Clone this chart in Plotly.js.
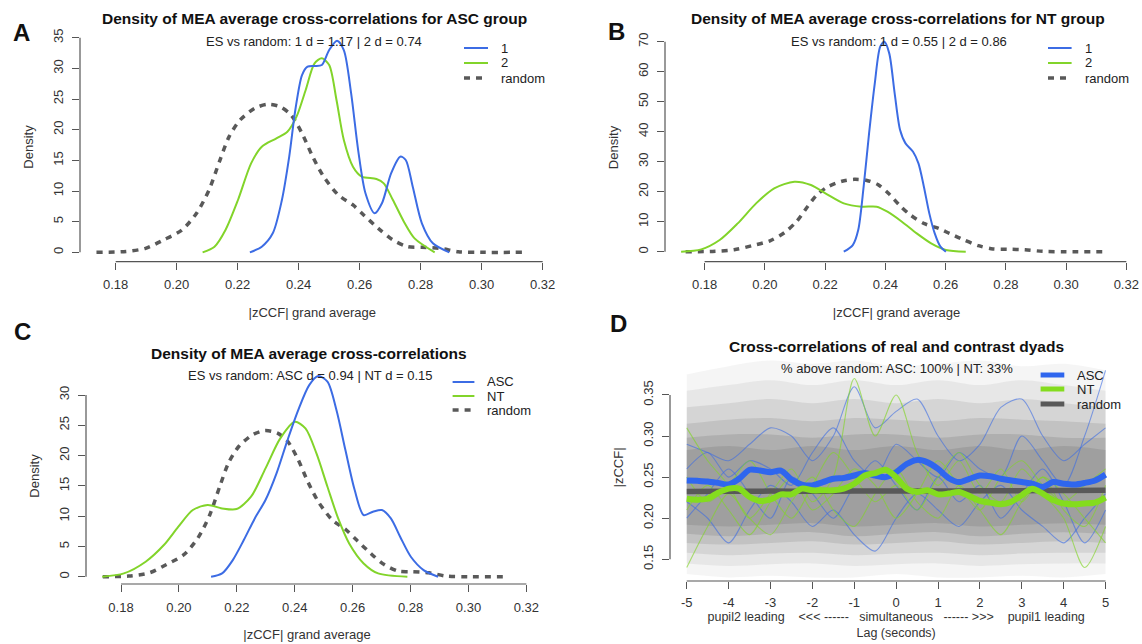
<!DOCTYPE html>
<html><head><meta charset="utf-8">
<script src="https://cdn.plot.ly/plotly-3.0.1.min.js"></script>
<style>html,body{margin:0;padding:0;background:#fff}#chart{width:1142px;height:644px}</style>
</head><body><div id="chart"></div>
<script>
// ---------- Panel A: density, ASC group ----------
const aDyad1X = [0.2240,0.2279,0.2315,0.2345,0.2369,0.2389,0.2411,0.2429,0.2452,0.2476,0.2500,0.2526,0.2548,0.2572,0.2595,0.2619,0.2649,0.2673,0.2703,0.2733,0.2751,0.2774,0.2804,0.2840,0.2894];
const aDyad1Y = [0,0.92,3.10,8.53,15.60,23.21,28.91,30.27,30.38,30.54,32.99,34.51,32.99,25.92,16.68,9.62,6.36,7.99,12.88,15.60,15.05,10.71,4.73,1.47,0];
const aDyad2X = [0.2085,0.2124,0.2160,0.2201,0.2244,0.2279,0.2327,0.2363,0.2393,0.2423,0.2452,0.2476,0.2500,0.2524,0.2548,0.2578,0.2607,0.2655,0.2679,0.2709,0.2745,0.2780,0.2846];
const aDyad2Y = [0,0.92,3.64,8.53,14.51,17.23,18.59,19.67,22.12,26.47,30.82,31.63,30.54,24.84,18.32,13.97,12.34,11.96,11.25,8.53,5.00,2.28,0];
// random (contrast) density, shared by A, B, C
const randomX = [0.1737,0.1826,0.1898,0.1957,0.2017,0.2065,0.2106,0.2142,0.2172,0.2208,0.2256,0.2297,0.2339,0.2375,0.2411,0.2446,0.2482,0.2530,0.2578,0.2613,0.2661,0.2709,0.2757,0.2804,0.2864,0.2923,0.3000,0.3138];
const randomY = [0,0.11,0.65,2.01,3.64,6.36,10.16,15.05,18.86,21.58,23.48,24.13,23.75,22.39,19.40,15.60,12.34,9.35,7.72,6.09,3.91,2.01,0.92,0.82,0.65,0.11,0,0];

// ---------- Panel B: density, NT group ----------
const bDyad1X = [0.2262,0.2292,0.2310,0.2328,0.2346,0.2365,0.2383,0.2397,0.2413,0.2431,0.2449,0.2467,0.2492,0.2510,0.2528,0.2546,0.2564,0.2583,0.2601];
const bDyad1Y = [0,2.22,7.22,21.67,39.44,56.11,68.33,70.0,66.11,52.78,40.56,36.11,33.33,29.44,21.67,12.78,6.11,1.67,0];
const bDyad2X = [0.1722,0.1789,0.1850,0.1910,0.1971,0.2031,0.2098,0.2153,0.2201,0.2262,0.2322,0.2371,0.2407,0.2455,0.2504,0.2552,0.2601,0.2667];
const bDyad2Y = [0,0.78,3.89,9.44,16.11,21.11,23.33,22.22,19.44,16.11,15.0,15.0,13.33,10.0,6.11,2.78,0.56,0];

// ---------- Panel C: density, ASC vs NT ----------
const cAscX = [0.2111,0.2149,0.2186,0.2224,0.2262,0.2299,0.2337,0.2375,0.2412,0.2450,0.2481,0.2513,0.2544,0.2575,0.2607,0.2638,0.2670,0.2701,0.2732,0.2764,0.2801,0.2845,0.2895];
const cAscY = [0,0.55,2.75,6.05,9.63,12.66,17.06,22.56,27.52,31.64,33.13,32.20,27.52,20.91,14.31,10.18,10.73,11.01,9.63,6.60,3.30,1.10,0];
const cNtX = [0.1735,0.1810,0.1885,0.1948,0.1998,0.2048,0.2099,0.2149,0.2199,0.2249,0.2299,0.2350,0.2400,0.2437,0.2475,0.2513,0.2550,0.2588,0.2638,0.2688,0.2789];
const cNtY = [0,0.55,2.48,5.23,8.26,11.01,11.83,11.28,11.17,13.21,17.89,22.84,25.59,24.49,20.36,14.86,9.63,5.50,2.20,0.55,0];

// ---------- Panel D: cross-correlation over lag ----------
const lagFine = [-5,-4.75,-4.5,-4.25,-4,-3.75,-3.5,-3.25,-3,-2.75,-2.5,-2.25,-2,-1.75,-1.5,-1.25,-1,-0.75,-0.5,-0.25,0,0.25,0.5,0.75,1,1.25,1.5,1.75,2,2.25,2.5,2.75,3,3.25,3.5,3.75,4,4.25,4.5,4.75,5];
const ascMean = [0.246,0.2455,0.2448,0.243,0.241,0.248,0.259,0.258,0.256,0.258,0.247,0.241,0.240,0.244,0.248,0.249,0.252,0.255,0.252,0.250,0.256,0.266,0.271,0.268,0.260,0.249,0.244,0.248,0.252,0.251,0.248,0.246,0.244,0.242,0.238,0.244,0.242,0.241,0.243,0.246,0.253];
const ntMean = [0.2238,0.2226,0.224,0.231,0.236,0.236,0.226,0.221,0.223,0.229,0.229,0.236,0.234,0.234,0.234,0.236,0.242,0.252,0.255,0.259,0.250,0.236,0.232,0.234,0.229,0.230,0.232,0.227,0.221,0.219,0.217,0.220,0.228,0.236,0.230,0.222,0.218,0.217,0.218,0.219,0.225];
const lagUnit = [-5,-4,-3,-2,-1,0,1,2,3,4,5];
const randomMean = [0.2325,0.2328,0.2330,0.2328,0.2330,0.2332,0.2330,0.2333,0.2335,0.2337,0.2340];
// envelopes of the contrast (random) dyad curves, outer to inner
const env1Hi = [0.375,0.385,0.392,0.388,0.392,0.385,0.388,0.392,0.385,0.388,0.38];
const env1Lo = [0.132,0.128,0.13,0.128,0.128,0.132,0.128,0.128,0.13,0.128,0.132];
const env2Hi = [0.355,0.362,0.368,0.362,0.368,0.362,0.368,0.362,0.368,0.362,0.355];
const env2Lo = [0.145,0.142,0.144,0.145,0.142,0.144,0.145,0.142,0.144,0.145,0.145];
const env3Hi = [0.335,0.34,0.345,0.34,0.345,0.34,0.345,0.34,0.345,0.34,0.335];
const env3Lo = [0.158,0.155,0.157,0.158,0.155,0.157,0.158,0.155,0.157,0.158,0.158];
const env4Hi = [0.315,0.32,0.322,0.318,0.322,0.32,0.318,0.322,0.32,0.318,0.315];
const env4Lo = [0.17,0.168,0.17,0.172,0.168,0.17,0.172,0.168,0.17,0.172,0.17];
const env5Hi = [0.298,0.302,0.302,0.298,0.302,0.302,0.298,0.302,0.302,0.298,0.298];
const env5Lo = [0.181,0.178,0.181,0.183,0.178,0.181,0.183,0.178,0.181,0.183,0.181];
const env6Hi = [0.283,0.288,0.283,0.288,0.283,0.288,0.283,0.288,0.283,0.288,0.283];
const env6Lo = [0.192,0.19,0.192,0.194,0.19,0.192,0.194,0.19,0.192,0.194,0.192];
// a few individual real-dyad curves
const lagHalf = [-5,-4.5,-4,-3.5,-3,-2.5,-2,-1.5,-1,-0.5,0,0.5,1,1.5,2,2.5,3,3.5,4,4.5,5];
const ascDyadA = [0.29,0.28,0.27,0.29,0.31,0.30,0.27,0.30,0.36,0.31,0.33,0.345,0.30,0.27,0.29,0.335,0.345,0.30,0.27,0.29,0.31];
const ascDyadB = [0.22,0.20,0.17,0.21,0.24,0.22,0.19,0.21,0.18,0.16,0.20,0.23,0.21,0.19,0.22,0.24,0.21,0.19,0.17,0.20,0.23];
const ascDyadC = [0.26,0.28,0.25,0.27,0.26,0.24,0.28,0.31,0.27,0.25,0.29,0.27,0.25,0.28,0.26,0.25,0.30,0.27,0.24,0.30,0.38];
const ascDyadD = [0.20,0.23,0.26,0.23,0.20,0.25,0.23,0.20,0.24,0.27,0.24,0.21,0.25,0.22,0.24,0.20,0.23,0.26,0.22,0.17,0.21];
const ntDyadA = [0.31,0.27,0.24,0.20,0.23,0.26,0.22,0.25,0.37,0.30,0.35,0.28,0.24,0.27,0.23,0.26,0.22,0.25,0.21,0.19,0.24];
const ntDyadB = [0.14,0.19,0.23,0.20,0.18,0.22,0.25,0.21,0.19,0.23,0.26,0.22,0.20,0.24,0.21,0.18,0.22,0.25,0.23,0.20,0.17];
const ntDyadC = [0.25,0.22,0.24,0.27,0.23,0.20,0.24,0.28,0.25,0.22,0.24,0.21,0.25,0.28,0.24,0.22,0.26,0.23,0.20,0.14,0.19];
const ntDyadD = [0.21,0.24,0.21,0.18,0.22,0.25,0.21,0.23,0.26,0.24,0.20,0.23,0.27,0.24,0.21,0.25,0.27,0.24,0.22,0.24,0.26];

// ---------- ticks / labels ----------
const densXTicks = [0.18,0.20,0.22,0.24,0.26,0.28,0.30,0.32];
const densXLabels = ['0.18','0.20','0.22','0.24','0.26','0.28','0.30','0.32'];
const aYTicks = [0,5,10,15,20,25,30,35];
const bYTicks = [0,10,20,30,40,50,60,70];
const cYTicks = [0,5,10,15,20,25,30];
const dXTicks = [-5,-4,-3,-2,-1,0,1,2,3,4,5];
const dXLabels = ['-5','-4','-3','-2','-1','0','1','2','3','4','5'];
const dYTicks = [0.15,0.20,0.25,0.30,0.35];
const dYLabels = ['0.15','0.20','0.25','0.30','0.35'];

// ---------- styling ----------
const W = 1142, H = 644;
const px = v => v / W, py = v => 1 - v / H;
const FONT = 'Liberation Sans, Arial, Helvetica, sans-serif';
const BLUE = '#3c6ce4', GREEN = '#82d42a', DGRAY = '#595959', AXC = '#555555';

const traces = [];
function line(x, y, xa, ya, color, width, dash, opacity) {
  traces.push({x: x, y: y, xaxis: xa, yaxis: ya, type: 'scatter', mode: 'lines',
    line: {color: color, width: width, dash: dash || 'solid', shape: 'spline', smoothing: 0.8},
    opacity: opacity == null ? 1 : opacity, hoverinfo: 'skip', showlegend: false});
}
const RDASH = '6px,6px';
// A
line(randomX, randomY, 'x', 'y', DGRAY, 3.5, RDASH);
line(aDyad2X, aDyad2Y, 'x', 'y', GREEN, 2);
line(aDyad1X, aDyad1Y, 'x', 'y', BLUE, 2);
// B
line(randomX, randomY, 'x2', 'y2', DGRAY, 3.5, RDASH);
line(bDyad2X, bDyad2Y, 'x2', 'y2', GREEN, 2);
line(bDyad1X, bDyad1Y, 'x2', 'y2', BLUE, 2);
// C
line(randomX, randomY, 'x3', 'y3', DGRAY, 3.5, RDASH);
line(cNtX, cNtY, 'x3', 'y3', GREEN, 2);
line(cAscX, cAscY, 'x3', 'y3', BLUE, 2);
// D bands
function band(lo, hi, col) {
  traces.push({x: lagUnit, y: lo, xaxis: 'x4', yaxis: 'y4', type: 'scatter', mode: 'lines',
    line: {width: 0, shape: 'spline'}, hoverinfo: 'skip', showlegend: false});
  traces.push({x: lagUnit, y: hi, xaxis: 'x4', yaxis: 'y4', type: 'scatter', mode: 'lines', fill: 'tonexty',
    fillcolor: col, line: {width: 0, shape: 'spline'}, hoverinfo: 'skip', showlegend: false});
}
band(env1Lo, env1Hi, 'rgba(170,170,170,0.12)');
band(env2Lo, env2Hi, 'rgba(160,160,160,0.16)');
band(env3Lo, env3Hi, 'rgba(145,145,145,0.20)');
band(env4Lo, env4Hi, 'rgba(135,135,135,0.24)');
band(env5Lo, env5Hi, 'rgba(125,125,125,0.26)');
band(env6Lo, env6Hi, 'rgba(115,115,115,0.26)');
[ascDyadA, ascDyadB, ascDyadC, ascDyadD].forEach(v => line(lagHalf, v, 'x4', 'y4', BLUE, 1.1, null, 0.6));
[ntDyadA, ntDyadB, ntDyadC, ntDyadD].forEach(v => line(lagHalf, v, 'x4', 'y4', GREEN, 1.1, null, 0.65));
line(lagUnit, randomMean, 'x4', 'y4', DGRAY, 5.5);
line(lagFine, ascMean, 'x4', 'y4', '#2f66ee', 6);
line(lagFine, ntMean, 'x4', 'y4', '#84dc1e', 6);

// ---------- axes ----------
function xAxis(d0, d1, range, tv, tt, anchor, title, standoff) {
  return {domain: [px(d0), px(d1)], range: range, anchor: anchor, tickvals: tv, ticktext: tt,
    ticks: 'outside', ticklen: 7, tickwidth: 1, tickcolor: AXC, showline: false, showgrid: false, zeroline: false,
    ticklabelstandoff: 4, tickfont: {family: FONT, size: 13, color: '#333'},
    title: {text: title, standoff: standoff, font: {family: FONT, size: 13, color: '#333'}}, fixedrange: true};
}
function yAxis(t0, b0, range, tv, tt, anchor, title, standoff) {
  return {domain: [py(b0), py(t0)], range: range, anchor: anchor, tickvals: tv, ticktext: tt, tickangle: -90,
    ticks: 'outside', ticklen: 7, tickwidth: 1, tickcolor: AXC, showline: false, showgrid: false, zeroline: false,
    ticklabelstandoff: 4, tickfont: {family: FONT, size: 13, color: '#333'},
    title: {text: title, standoff: standoff, font: {family: FONT, size: 13, color: '#333'}}, fixedrange: true};
}
const dXTitle = 'pupil2 leading\u00a0\u00a0\u00a0\u00a0<<< ------\u00a0\u00a0\u00a0simultaneous\u00a0\u00a0\u00a0------ >>>\u00a0\u00a0\u00a0\u00a0pupil1 leading<br>Lag (seconds)';

const layout = {
  width: W, height: H, margin: {l: 0, r: 0, t: 0, b: 0}, paper_bgcolor: '#fff', plot_bgcolor: '#fff',
  showlegend: false, hovermode: false, font: {family: FONT, color: '#333'},
  xaxis: xAxis(80, 544.5, [0.1683, 0.3206], densXTicks, densXLabels, 'y', '|zCCF| grand average', 16),
  yaxis: yAxis(32.3, 261.7, [-1.53, 35.88], aYTicks, aYTicks.map(String), 'x', 'Density', 14),
  xaxis2: xAxis(665, 1128.1, [0.16685, 0.3206], densXTicks, densXLabels, 'y2', '|zCCF| grand average', 16),
  yaxis2: yAxis(33.3, 261.7, [-3.33, 72.8], bYTicks, bYTicks.map(String), 'x2', 'Density', 14),
  xaxis3: xAxis(86, 528.1, [0.1679, 0.3206], densXTicks, densXLabels, 'y3', '|zCCF| grand average', 16),
  yaxis3: yAxis(368, 584, [-1.2, 34.46], cYTicks, cYTicks.map(String), 'x3', 'Density', 14),
  xaxis4: xAxis(670, 1122.3, [-5.4, 5.4], dXTicks, dXLabels, 'y4', dXTitle, 1),
  yaxis4: yAxis(353.9, 581, [0.1236, 0.400], dYTicks, dYLabels, 'x4', '|zCCF|', 14),
  shapes: [], annotations: []
};
layout.xaxis4.title.font.size = 12.5;
layout.xaxis4.ticklabelstandoff = 2;

// detached R-style axis lines (between first and last tick)
[['x', 'y', densXTicks, aYTicks], ['x2', 'y2', densXTicks, bYTicks], ['x3', 'y3', densXTicks, cYTicks], ['x4', 'y4', dXTicks, dYTicks]].forEach(([xa, ya, xt, yt]) => {
  layout.shapes.push({type: 'line', xref: xa, yref: ya + ' domain', x0: xt[0], x1: xt[xt.length - 1], y0: 0, y1: 0, line: {color: AXC, width: 1.2}});
  layout.shapes.push({type: 'line', xref: xa + ' domain', yref: ya, x0: 0, x1: 0, y0: yt[0], y1: yt[yt.length - 1], line: {color: AXC, width: 1.2}});
});

function ann(text, x, y, size, bold, anchor, color) {
  layout.annotations.push({text: bold ? '<b>' + text + '</b>' : text, x: px(x), y: py(y), xref: 'paper', yref: 'paper',
    xanchor: anchor || 'center', yanchor: 'middle', showarrow: false,
    font: {family: FONT, size: size, color: color || '#111'}});
}
// panel letters
ann('A', 21.7, 33, 24, true); ann('B', 616.7, 32, 24, true);
ann('C', 22.4, 331.5, 24, true); ann('D', 618.4, 324, 24, true);
// titles
ann('Density of MEA average cross-correlations for ASC group', 314, 18, 15.5, true);
ann('Density of MEA average cross-correlations for NT group', 898, 18, 15.5, true);
ann('Density of MEA average cross-correlations', 309.5, 353, 15.5, true);
ann('Cross-correlations of real and contrast dyads', 896, 346, 15.5, true);
// subtitles
ann('ES vs random: 1 d = 1.17 | 2 d = 0.74', 314, 42, 13, false, 'center', '#222');
ann('ES vs random: 1 d = 0.55 | 2 d = 0.86', 899, 42, 13, false, 'center', '#222');
ann('ES vs random: ASC d = 0.94 | NT d = 0.15', 310, 375, 13, false, 'center', '#222');
ann('% above random: ASC: 100% | NT: 33%', 896.5, 368, 13, false, 'center', '#222');

// legends (R-style, no box)
function legend(x0, x1, tx, rows, names, styles) {
  names.forEach((n, i) => {
    const s = styles[i];
    layout.shapes.push({type: 'line', xref: 'paper', yref: 'paper', x0: px(x0), x1: px(x1), y0: py(rows[i]), y1: py(rows[i]),
      line: {color: s.c, width: s.w, dash: s.d || 'solid'}});
    ann(n, tx, rows[i], 13, false, 'left', '#222');
  });
}
const densStyles = [{c: BLUE, w: 2}, {c: GREEN, w: 2}, {c: DGRAY, w: 3.5, d: RDASH}];
legend(464, 488, 499, [48, 63, 78], ['1', '2', 'random'], densStyles);
legend(1048, 1071.6, 1082.5, [48, 63, 78], ['1', '2', 'random'], densStyles);
legend(452.6, 474.4, 485.3, [382, 396, 410], ['ASC', 'NT', 'random'], densStyles);
legend(1040.6, 1064.3, 1074.5, [375, 389, 404], ['ASC', 'NT', 'random'],
  [{c: '#2f66ee', w: 5}, {c: '#84dc1e', w: 5}, {c: DGRAY, w: 5}]);

Plotly.newPlot('chart', traces, layout, {staticPlot: true, displayModeBar: false});
</script></body></html>
